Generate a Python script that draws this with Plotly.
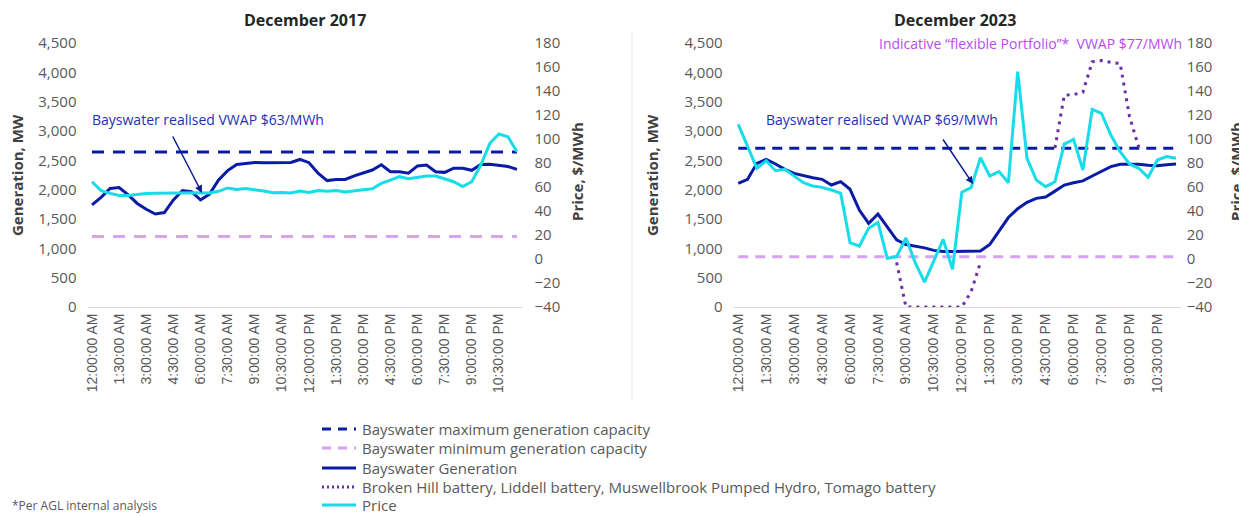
import plotly.graph_objects as go

# ---------------- data ----------------
times = [
    "12:00:00 AM", "12:30:00 AM", "1:00:00 AM", "1:30:00 AM", "2:00:00 AM", "2:30:00 AM",
    "3:00:00 AM", "3:30:00 AM", "4:00:00 AM", "4:30:00 AM", "5:00:00 AM", "5:30:00 AM",
    "6:00:00 AM", "6:30:00 AM", "7:00:00 AM", "7:30:00 AM", "8:00:00 AM", "8:30:00 AM",
    "9:00:00 AM", "9:30:00 AM", "10:00:00 AM", "10:30:00 AM", "11:00:00 AM", "11:30:00 AM",
    "12:00:00 PM", "12:30:00 PM", "1:00:00 PM", "1:30:00 PM", "2:00:00 PM", "2:30:00 PM",
    "3:00:00 PM", "3:30:00 PM", "4:00:00 PM", "4:30:00 PM", "5:00:00 PM", "5:30:00 PM",
    "6:00:00 PM", "6:30:00 PM", "7:00:00 PM", "7:30:00 PM", "8:00:00 PM", "8:30:00 PM",
    "9:00:00 PM", "9:30:00 PM", "10:00:00 PM", "10:30:00 PM", "11:00:00 PM", "11:30:00 PM",
]
tick_labels = [
    "12:00:00 AM", "1:30:00 AM", "3:00:00 AM", "4:30:00 AM", "6:00:00 AM", "7:30:00 AM",
    "9:00:00 AM", "10:30:00 AM", "12:00:00 PM", "1:30:00 PM", "3:00:00 PM", "4:30:00 PM",
    "6:00:00 PM", "7:30:00 PM", "9:00:00 PM", "10:30:00 PM",
]

# December 2017
gen_2017 = [1740, 1870, 2020, 2035, 1910, 1765, 1665, 1585, 1610, 1825, 1985, 1965,
            1825, 1925, 2165, 2325, 2430, 2450, 2465, 2460, 2460, 2465, 2465, 2515,
            2460, 2280, 2155, 2175, 2175, 2235, 2290, 2335, 2425, 2305, 2305, 2280,
            2405, 2420, 2305, 2295, 2365, 2365, 2330, 2430, 2435, 2420, 2395, 2345]
price_2017 = [64.4, 57.0, 54.7, 53.0, 53.0, 54.0, 54.5, 54.8, 55.0, 55.2, 55.3, 55.3,
              55.3, 55.0, 56.4, 59.2, 57.9, 58.7, 57.9, 56.7, 55.3, 55.5, 55.0, 56.7,
              55.5, 57.0, 56.4, 57.0, 55.8, 57.0, 57.7, 58.6, 63.0, 65.8, 68.6, 66.9,
              68.0, 69.2, 69.2, 67.0, 64.4, 60.3, 64.4, 78.3, 96.4, 104.2, 101.9, 89.4]
max_cap_2017 = 2640
min_cap_2017 = 1200

# December 2023
gen_2023 = [2108, 2176, 2449, 2517, 2437, 2347, 2278, 2238, 2204, 2176, 2079, 2136,
            2006, 1653, 1426, 1585, 1370, 1145, 1065, 1035, 1008, 965, 945, 945,
            945, 945, 953, 1065, 1300, 1525, 1675, 1785, 1852, 1875, 1975, 2079,
            2119, 2150, 2233, 2307, 2392, 2432, 2432, 2432, 2415, 2409, 2426, 2437]
price_2023 = [112.2, 94.2, 75.6, 81.9, 73.6, 74.7, 69.2, 63.6, 60.8, 59.7, 57.5, 54.7,
              13.6, 10.8, 25.6, 30.5, 0.6, 1.9, 17.5, -3.0, -19.2, -0.8, 16.4, -8.6,
              55.7, 59.5, 84.4, 69.2, 72.8, 63.6, 156.1, 83.9, 65.8, 60.3, 64.4, 95.8,
              99.7, 74.2, 124.7, 121.4, 103.3, 89.4, 79.2, 75.6, 68.1, 82.5, 85.3, 83.9]
battery_2023 = [None, None, None, None, None, None, None, None, None, None, None, None,
                None, None, None, None, None, 760, 0, 0, 0, 0, 0, 0,
                0, 260, 760, None, None, None, None, None, None, None, 2710, 3610,
                3620, 3660, 4180, 4200, 4170, 4150, 3250, 2720, None, None, None, None]
max_cap_2023 = 2705
min_cap_2023 = 855

series_names = [
    "Bayswater maximum generation capacity",
    "Bayswater minimum generation capacity",
    "Bayswater Generation",
    "Broken Hill battery, Liddell battery, Muswellbrook Pumped Hydro, Tomago battery",
    "Price",
]

# ---------------- styling ----------------
OFF = 8                      # page body margin in the browser
W, H = 1247 - OFF, 516 - OFF
C_GEN = "#0A1CA6"
C_MIN = "#D7A2F6"
C_PRICE = "#17DCE9"
C_BATT = "#6B2FA3"
C_VWAP = "#1F30B2"
C_FLEX = "#B44CF0"
TXT = "#595959"
FONT = "Open Sans"

def px(x):
    return (x - OFF) / W

def py(y):
    return 1 - (y - OFF) / H

fig = go.Figure()

def add_pair(xa, ya, ya2, gen, price, maxc, minc, batt, dash_pat):
    n = len(times)
    fig.add_trace(go.Scatter(x=times, y=[maxc] * n, mode="lines", name=series_names[0],
                             showlegend=False, xaxis=xa, yaxis=ya, hoverinfo="skip",
                             line=dict(color=C_GEN, width=3, dash=dash_pat)))
    fig.add_trace(go.Scatter(x=times, y=[minc] * n, mode="lines", name=series_names[1],
                             showlegend=False, xaxis=xa, yaxis=ya, hoverinfo="skip",
                             line=dict(color=C_MIN, width=3, dash=dash_pat)))
    fig.add_trace(go.Scatter(x=times, y=gen, mode="lines", name=series_names[2],
                             showlegend=False, xaxis=xa, yaxis=ya,
                             line=dict(color=C_GEN, width=3)))
    if batt is not None:
        fig.add_trace(go.Scatter(x=times, y=batt, mode="lines", name=series_names[3],
                                 showlegend=False, xaxis=xa, yaxis=ya, connectgaps=False,
                                 line=dict(color=C_BATT, width=3, dash="3px,5px")))
    fig.add_trace(go.Scatter(x=times, y=price, mode="lines", name=series_names[4],
                             showlegend=False, xaxis=xa, yaxis=ya2,
                             line=dict(color=C_PRICE, width=3)))

add_pair("x", "y", "y2", gen_2017, price_2017, max_cap_2017, min_cap_2017, None, "12px,9px")
add_pair("x2", "y3", "y4", gen_2023, price_2023, max_cap_2023, min_cap_2023, battery_2023, "10px,7px")

ydom = [py(307), py(43)]
xdom1 = [px(87.5), px(521.5)]
xdom2 = [px(733.6), px(1180.7)]

xaxis_common = dict(type="category", categoryorder="array", categoryarray=times,
                    range=[-0.5, len(times) - 0.5], tickmode="array", tickvals=tick_labels,
                    ticktext=tick_labels, tickangle=-90, showgrid=False, zeroline=False,
                    showline=True, linecolor="#D9D9D9", linewidth=1, ticks="", automargin=False,
                    tickfont=dict(family="Liberation Sans", size=14, color=TXT))
gen_axis = dict(range=[0, 4500], dtick=500, tickformat=",d", showgrid=False, zeroline=False,
                showline=False, ticks="", ticklabelstandoff=10, automargin=False,
                tickfont=dict(family=FONT, size=15, color=TXT))
price_axis = dict(range=[-40, 180], dtick=20, showgrid=False, zeroline=False,
                  showline=False, ticks="", side="right", automargin=False,
                  tickfont=dict(family=FONT, size=15, color=TXT))

fig.update_layout(
    width=W, height=H, margin=dict(l=0, r=0, t=0, b=0, autoexpand=False),
    paper_bgcolor="white", plot_bgcolor="rgba(0,0,0,0)",
    font=dict(family=FONT, color=TXT),
    xaxis=dict(domain=xdom1, anchor="y", **xaxis_common),
    xaxis2=dict(domain=xdom2, anchor="y3", **xaxis_common),
    yaxis=dict(domain=ydom, anchor="x", **gen_axis),
    yaxis2=dict(overlaying="y", anchor="x", ticklabelstandoff=12, **price_axis),
    yaxis3=dict(domain=ydom, anchor="x2", **gen_axis),
    yaxis4=dict(overlaying="y3", anchor="x2", ticklabelstandoff=5, **price_axis),
    showlegend=False,
)

ann = []
shapes = []

def text(t, x, y, size, color, xanchor="center", angle=0):
    ann.append(dict(text=t, x=px(x), y=py(y), xref="paper", yref="paper", xanchor=xanchor,
                    yanchor="middle", textangle=angle, showarrow=False,
                    font=dict(family=FONT, size=size, color=color)))

text("<b>December 2017</b>", 305, 20, 16, "#262626")
text("<b>December 2023</b>", 955, 20, 16, "#262626")
for xc in (17, 652):
    text("<b>Generation, MW</b>", xc, 175, 15, "#404040", angle=-90)
for xc in (577, 1236):
    text("<b>Price, $/MWh</b>", xc, 172, 15, "#404040", angle=-90)
text("Bayswater realised VWAP $63/MWh", 90, 119, 14, C_VWAP, xanchor="left")
text("Bayswater realised VWAP $69/MWh", 764, 119, 14, C_VWAP, xanchor="left")
text("Indicative \u201cflexible Portfolio\u201d*\u00a0 VWAP $77/MWh", 1184, 44, 14, C_FLEX, xanchor="right")

# arrows
ann.append(dict(text="", x=px(202), y=py(193), xref="paper", yref="paper", showarrow=True,
                ax=172 - 202, ay=135 - 193, axref="pixel", ayref="pixel", arrowhead=2,
                arrowsize=1, arrowwidth=1.5, arrowcolor="#0B1D8F"))
ann.append(dict(text="", x=px(973), y=py(184), xref="paper", yref="paper", showarrow=True,
                ax=942 - 973, ay=138 - 184, axref="pixel", ayref="pixel", arrowhead=2,
                arrowsize=1, arrowwidth=1.5, arrowcolor="#0B1D8F"))

# footnote (kept fully visible at the bottom edge)
ann.append(dict(text="*Per AGL internal analysis", x=px(10), y=0, xref="paper", yref="paper",
                xanchor="left", yanchor="bottom", showarrow=False,
                font=dict(family=FONT, size=12, color=TXT)))

# manual legend (symbol lines + labels)
legend_rows = [
    (series_names[0], C_GEN, "9px,7px"),
    (series_names[1], C_MIN, "9px,7px"),
    (series_names[2], C_GEN, "solid"),
    (series_names[3], C_BATT, "2px,3px"),
    (series_names[4], C_PRICE, "solid"),
]
row_y = [429, 448, 468, 487, 505]
for (name, col, dash), yy in zip(legend_rows, row_y):
    shapes.append(dict(type="line", xref="paper", yref="paper", x0=px(322), x1=px(356),
                       y0=py(yy), y1=py(yy), line=dict(color=col, width=3, dash=dash)))
    text(name, 360, yy, 15, TXT, xanchor="left")

shapes.append(dict(type="line", xref="paper", yref="paper", x0=px(632), x1=px(632), y0=py(400),
                   y1=py(33), line=dict(color="#E6E6E6", width=1)))
fig.update_layout(annotations=ann, shapes=shapes)

fig.write_html("out.html")
